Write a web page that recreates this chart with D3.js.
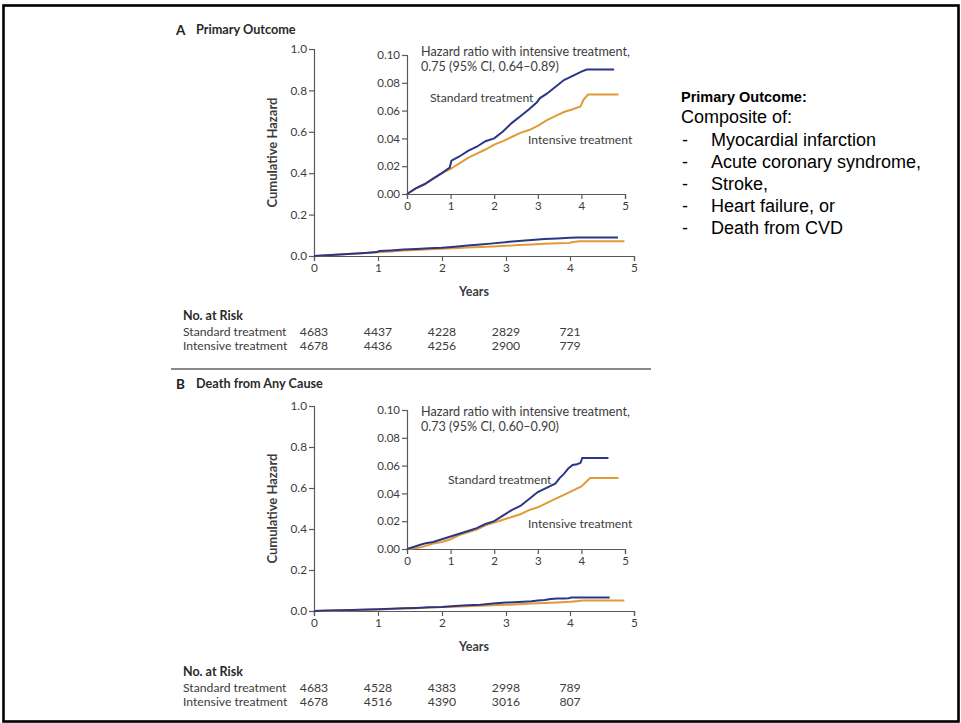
<!DOCTYPE html>
<html><head><meta charset="utf-8">
<script src="https://cdn.jsdelivr.net/npm/d3@7"></script>
<style>
body{margin:0;background:#fff;}
svg{display:block;}
</style></head>
<body>
<svg id="chart" width="961" height="723"></svg>
<script>
// ---------- data ----------
const yearTicks = [0, 1, 2, 3, 4, 5];
const mainTicks = [0, 0.2, 0.4, 0.6, 0.8, 1.0];
const insetTicks = [0, 0.02, 0.04, 0.06, 0.08, 0.10];

// Panel A: Primary outcome
const aStdYears = [0, 0.2, 0.4, 0.6, 0.8, 0.98, 1.02, 1.2, 1.4, 1.6, 1.8, 2.0, 2.2, 2.4, 2.6, 2.8, 2.98, 3.05, 3.2, 3.4, 3.6, 3.8, 4.0, 4.12, 4.75];
const aStdVals  = [0, 0.004, 0.007, 0.011, 0.015, 0.019, 0.024, 0.027, 0.031, 0.034, 0.038, 0.040, 0.045, 0.051, 0.056, 0.061, 0.066, 0.069, 0.072, 0.077, 0.082, 0.085, 0.088, 0.0895, 0.0895];
const aIntYears = [0, 0.2, 0.4, 0.6, 0.8, 1.0, 1.2, 1.4, 1.6, 1.8, 2.0, 2.2, 2.4, 2.6, 2.8, 3.0, 3.2, 3.4, 3.6, 3.8, 3.98, 4.05, 4.15, 4.85];
const aIntVals  = [0, 0.004, 0.007, 0.011, 0.015, 0.018, 0.022, 0.026, 0.029, 0.032, 0.0355, 0.038, 0.041, 0.044, 0.046, 0.049, 0.053, 0.056, 0.059, 0.061, 0.063, 0.068, 0.0715, 0.0715];

// Panel B: Death from any cause
const bStdYears = [0, 0.2, 0.4, 0.6, 0.8, 1.0, 1.2, 1.4, 1.6, 1.8, 2.0, 2.2, 2.4, 2.6, 2.8, 3.0, 3.2, 3.4, 3.5, 3.6, 3.7, 3.8, 3.9, 3.98, 4.02, 4.62];
const bStdVals  = [0, 0.002, 0.004, 0.005, 0.007, 0.009, 0.011, 0.013, 0.015, 0.018, 0.020, 0.024, 0.028, 0.031, 0.036, 0.041, 0.044, 0.047, 0.051, 0.054, 0.058, 0.0605, 0.061, 0.062, 0.0655, 0.0655];
const bIntYears = [0, 0.3, 0.6, 0.8, 1.0, 1.2, 1.4, 1.6, 1.8, 2.0, 2.2, 2.4, 2.6, 2.8, 3.0, 3.2, 3.4, 3.6, 3.8, 4.0, 4.1, 4.2, 4.85];
const bIntVals  = [0, 0.001, 0.004, 0.005, 0.007, 0.010, 0.012, 0.014, 0.017, 0.019, 0.021, 0.023, 0.025, 0.028, 0.030, 0.033, 0.036, 0.039, 0.042, 0.045, 0.048, 0.051, 0.051];

const riskLabels = ["Standard treatment", "Intensive treatment"];
const aRiskStd = [4683, 4437, 4228, 2829, 721];
const aRiskInt = [4678, 4436, 4256, 2900, 779];
const bRiskStd = [4683, 4528, 4383, 2998, 789];
const bRiskInt = [4678, 4516, 4390, 3016, 807];

const aHazardText = ["Hazard ratio with intensive treatment,", "0.75 (95% CI, 0.64\u20130.89)"];
const bHazardText = ["Hazard ratio with intensive treatment,", "0.73 (95% CI, 0.60\u20130.90)"];

const sideTitle = "Primary Outcome:";
const sideIntro = "Composite of:";
const sideItems = ["Myocardial infarction", "Acute coronary syndrome,", "Stroke,", "Heart failure, or", "Death from CVD"];

// ---------- style ----------
const STD = "#2c3686";
const INT = "#e29a38";
const TXT = "#3c3c3c";
const AX = "#5a5a5a";
const FONT = "Lato, 'Open Sans', sans-serif";
const FS = 12.2;

const svg = d3.select("#chart");

// outer frame
svg.append("rect").attr("x", 3.5).attr("y", 5.5).attr("width", 955).attr("height", 716)
  .attr("fill", "none").attr("stroke", "#000").attr("stroke-width", 2.6);

function zip(xs, ys) { return xs.map((x, i) => ({x, y: ys[i]})); }

function styleAxis(g, fs) {
  g.selectAll("path.domain").attr("stroke", AX).attr("stroke-width", 1.2);
  g.selectAll(".tick line").attr("stroke", AX).attr("stroke-width", 1.2);
  g.selectAll(".tick text").attr("fill", TXT).attr("font-family", FONT).attr("font-size", fs);
}

function drawPanel(cfg) {
  const g = svg.append("g");
  // panel title
  g.append("text").attr("x", 176).attr("y", cfg.titleY).attr("dy", "0.35em")
    .attr("font-family", FONT).attr("font-weight", 700).attr("font-size", 13.5).attr("fill", "#222")
    .text(cfg.letter);
  g.append("text").attr("x", 196).attr("y", cfg.titleY).attr("dy", "0.35em")
    .attr("font-family", FONT).attr("font-weight", 700).attr("font-size", 12.7).attr("fill", "#2a2a2a")
    .text(cfg.title);

  // main axes
  const x = d3.scaleLinear().domain([0, 5]).range([314, 634]);
  const y = d3.scaleLinear().domain([0, 1]).range(cfg.mainY);
  const xa = g.append("g").attr("transform", `translate(0,${cfg.mainY[0]})`)
    .call(d3.axisBottom(x).tickValues(yearTicks).tickFormat(d3.format("d")).tickSize(5).tickPadding(3));
  styleAxis(xa, 11.8);
  const ya = g.append("g").attr("transform", "translate(314,0)")
    .call(d3.axisLeft(y).tickValues(mainTicks).tickFormat(d3.format(".1f")).tickSize(5).tickPadding(2));
  styleAxis(ya, 11.8);

  g.append("text").attr("x", 474).attr("y", cfg.mainY[0] + 36).attr("dy", "0.35em")
    .attr("text-anchor", "middle").attr("font-family", FONT).attr("font-weight", 700)
    .attr("font-size", 12.5).attr("fill", TXT).text("Years");
  g.append("text").attr("transform", `translate(272,${(cfg.mainY[0] + cfg.mainY[1]) / 2}) rotate(-90)`)
    .attr("dy", "0.35em").attr("text-anchor", "middle").attr("font-family", FONT).attr("font-weight", 700)
    .attr("font-size", 13).attr("fill", TXT).text("Cumulative Hazard");

  const line = d3.line().x(d => x(d.x)).y(d => y(d.y)).curve(d3.curveLinear);
  g.append("path").datum(zip(cfg.intYears, cfg.intVals)).attr("d", line)
    .attr("fill", "none").attr("stroke", INT).attr("stroke-width", 2);
  g.append("path").datum(zip(cfg.stdYears, cfg.stdVals)).attr("d", line)
    .attr("fill", "none").attr("stroke", STD).attr("stroke-width", 2);

  // inset
  const xi = d3.scaleLinear().domain([0, 5]).range([407, 625]);
  const yi = d3.scaleLinear().domain([0, 0.10]).range(cfg.insetY);
  const xia = g.append("g").attr("transform", `translate(0,${cfg.insetY[0]})`)
    .call(d3.axisBottom(xi).tickValues(yearTicks).tickFormat(d3.format("d")).tickSize(5).tickPadding(3));
  styleAxis(xia, 11.5);
  const yia = g.append("g").attr("transform", "translate(407,0)")
    .call(d3.axisLeft(yi).tickValues(insetTicks).tickFormat(d3.format(".2f")).tickSize(5).tickPadding(2));
  styleAxis(yia, 11.5);

  const linei = d3.line().x(d => xi(d.x)).y(d => yi(d.y)).curve(d3.curveLinear);
  g.append("path").datum(zip(cfg.intYears, cfg.intVals)).attr("d", linei)
    .attr("fill", "none").attr("stroke", INT).attr("stroke-width", 2);
  g.append("path").datum(zip(cfg.stdYears, cfg.stdVals)).attr("d", linei)
    .attr("fill", "none").attr("stroke", STD).attr("stroke-width", 2);

  cfg.hazard.forEach((t, i) => {
    g.append("text").attr("x", 421).attr("y", cfg.hazardY + i * 14.5).attr("dy", "0.35em")
      .attr("font-family", FONT).attr("font-size", 12.6).attr("fill", TXT).text(t);
  });
  g.append("text").attr("x", cfg.stdLabel[0]).attr("y", cfg.stdLabel[1]).attr("dy", "0.35em")
    .attr("font-family", FONT).attr("font-size", FS).attr("fill", TXT).text("Standard treatment");
  g.append("text").attr("x", cfg.intLabel[0]).attr("y", cfg.intLabel[1]).attr("dy", "0.35em")
    .attr("font-family", FONT).attr("font-size", FS).attr("fill", TXT).text("Intensive treatment");

  // number at risk
  g.append("text").attr("x", 183).attr("y", cfg.riskY).attr("dy", "0.35em")
    .attr("font-family", FONT).attr("font-weight", 700).attr("font-size", 12.5).attr("fill", "#2a2a2a")
    .text("No. at Risk");
  [cfg.riskStd, cfg.riskInt].forEach((row, r) => {
    const ry = cfg.riskY + 15.5 + r * 14;
    g.append("text").attr("x", 183).attr("y", ry).attr("dy", "0.35em")
      .attr("font-family", FONT).attr("font-size", FS).attr("fill", TXT).text(riskLabels[r]);
    g.selectAll(null).data(row).enter().append("text")
      .attr("x", (d, i) => x(yearTicks[i])).attr("y", ry).attr("dy", "0.35em")
      .attr("text-anchor", "middle").attr("font-family", FONT).attr("font-size", FS).attr("fill", TXT)
      .text(d => d);
  });
}

drawPanel({
  letter: "A", title: "Primary Outcome", titleY: 30,
  mainY: [256, 49], insetY: [194, 55],
  stdYears: aStdYears, stdVals: aStdVals, intYears: aIntYears, intVals: aIntVals,
  hazard: aHazardText, hazardY: 52, stdLabel: [430, 98], intLabel: [528, 140],
  riskY: 316, riskStd: aRiskStd, riskInt: aRiskInt
});

// separator between panels
svg.append("line").attr("x1", 171).attr("x2", 651).attr("y1", 369).attr("y2", 369)
  .attr("stroke", "#8a8a8a").attr("stroke-width", 2.2);

drawPanel({
  letter: "B", title: "Death from Any Cause", titleY: 384,
  mainY: [611, 406], insetY: [549, 410],
  stdYears: bStdYears, stdVals: bStdVals, intYears: bIntYears, intVals: bIntVals,
  hazard: bHazardText, hazardY: 412, stdLabel: [448, 480], intLabel: [528, 524],
  riskY: 672, riskStd: bRiskStd, riskInt: bRiskInt
});

// side text
const side = svg.append("g").attr("font-family", "'Liberation Sans', Arial, sans-serif").attr("fill", "#000");
side.append("text").attr("x", 681).attr("y", 97).attr("dy", "0.35em")
  .attr("font-weight", 700).attr("font-size", 14.5).text(sideTitle);
side.append("text").attr("x", 681).attr("y", 117).attr("dy", "0.35em")
  .attr("font-size", 18).text(sideIntro);
side.selectAll("g.item").data(sideItems).enter().append("g").attr("class", "item")
  .each(function(d, i) {
    const it = d3.select(this);
    const yy = 139.5 + i * 22;
    it.append("text").attr("x", 682).attr("y", yy).attr("dy", "0.35em").attr("font-size", 18).text("-");
    it.append("text").attr("x", 711).attr("y", yy).attr("dy", "0.35em").attr("font-size", 18).text(d);
  });
</script>
</body></html>
